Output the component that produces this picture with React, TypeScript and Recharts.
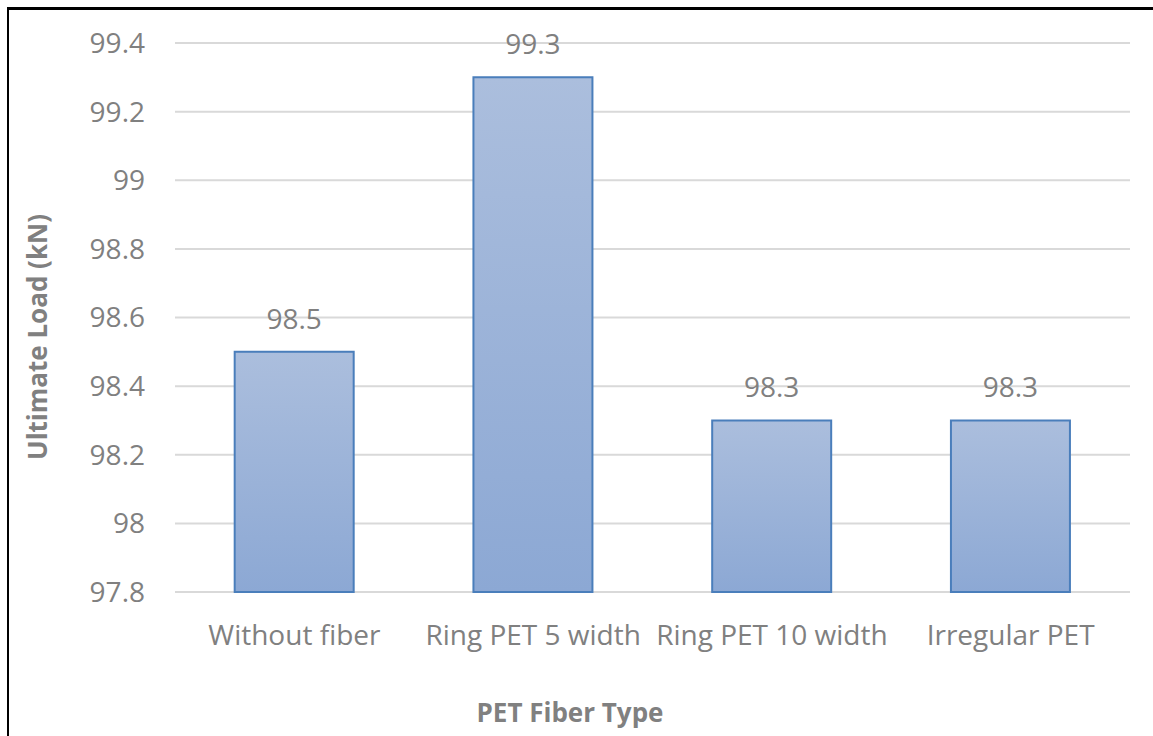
import { BarChart, Bar, XAxis, YAxis, CartesianGrid, LabelList, Label } from 'recharts';

const categories = ['Without fiber', 'Ring PET 5 width', 'Ring PET 10 width', 'Irregular PET'];
const ultimateLoad = [98.5, 99.3, 98.3, 98.3];
const yTicks = [97.8, 98, 98.2, 98.4, 98.6, 98.8, 99, 99.2, 99.4];

const data = categories.map((name, i) => ({ name, value: ultimateLoad[i] }));

const FONT = '"Open Sans", "Liberation Sans", sans-serif';
const GRAY = '#808080';

export default function App() {
  return (
    <div style={{ position: 'absolute', left: 0, top: 0, width: 1153, height: 736, overflow: 'hidden', background: '#fff', fontFamily: FONT }}>
      {/* frame: only top and left edges show in the crop */}
      <div
        style={{
          position: 'absolute',
          left: 7,
          top: 7,
          width: 1300,
          height: 900,
          borderTop: '3px solid #000',
          borderLeft: '2px solid #000',
        }}
      />
      <div style={{ position: 'absolute', left: 0, top: 0 }}>
        <BarChart
          width={1153}
          height={736}
          data={data}
          margin={{ top: 43, right: 23, bottom: 114, left: 0 }}
          barCategoryGap="25%"
        >
          <defs>
            <linearGradient id="barFill" x1="0" y1="0" x2="0" y2="1">
              <stop offset="0%" stopColor="#abbedd" />
              <stop offset="100%" stopColor="#8ca8d4" />
            </linearGradient>
          </defs>
          <CartesianGrid vertical={false} stroke="#d9d9d9" strokeWidth={2} />
          <XAxis
            dataKey="name"
            axisLine={false}
            tickLine={false}
            tickSize={31}
            tickMargin={2}
            interval={0}
            tick={{ fontSize: 28, fill: GRAY, fontFamily: FONT }}
          >
            <Label
              content={() => (
                <text x={570} y={722} textAnchor="middle" fill={GRAY} fontSize={26} fontWeight="bold" fontFamily={FONT}>
                  PET Fiber Type
                </text>
              )}
            />
          </XAxis>
          <YAxis
            width={175}
            domain={[97.8, 99.4]}
            ticks={yTicks}
            axisLine={false}
            tickLine={false}
            tickSize={28}
            tickMargin={2}
            tick={{ fontSize: 28, fill: GRAY, fontFamily: FONT }}
          >
            <Label
              content={() => (
                <text
                  x={0}
                  y={0}
                  transform="translate(47, 337) rotate(-90)"
                  textAnchor="middle"
                  fill={GRAY}
                  fontSize={26}
                  fontWeight="bold"
                  fontFamily={FONT}
                >
                  Ultimate Load (kN)
                </text>
              )}
            />
          </YAxis>
          <Bar dataKey="value" fill="url(#barFill)" stroke="#4a7ebb" strokeWidth={2} isAnimationActive={false}>
            <LabelList dataKey="value" position="top" offset={23} fill={GRAY} fontSize={28} fontFamily={FONT} />
          </Bar>
        </BarChart>
      </div>
    </div>
  );
}
